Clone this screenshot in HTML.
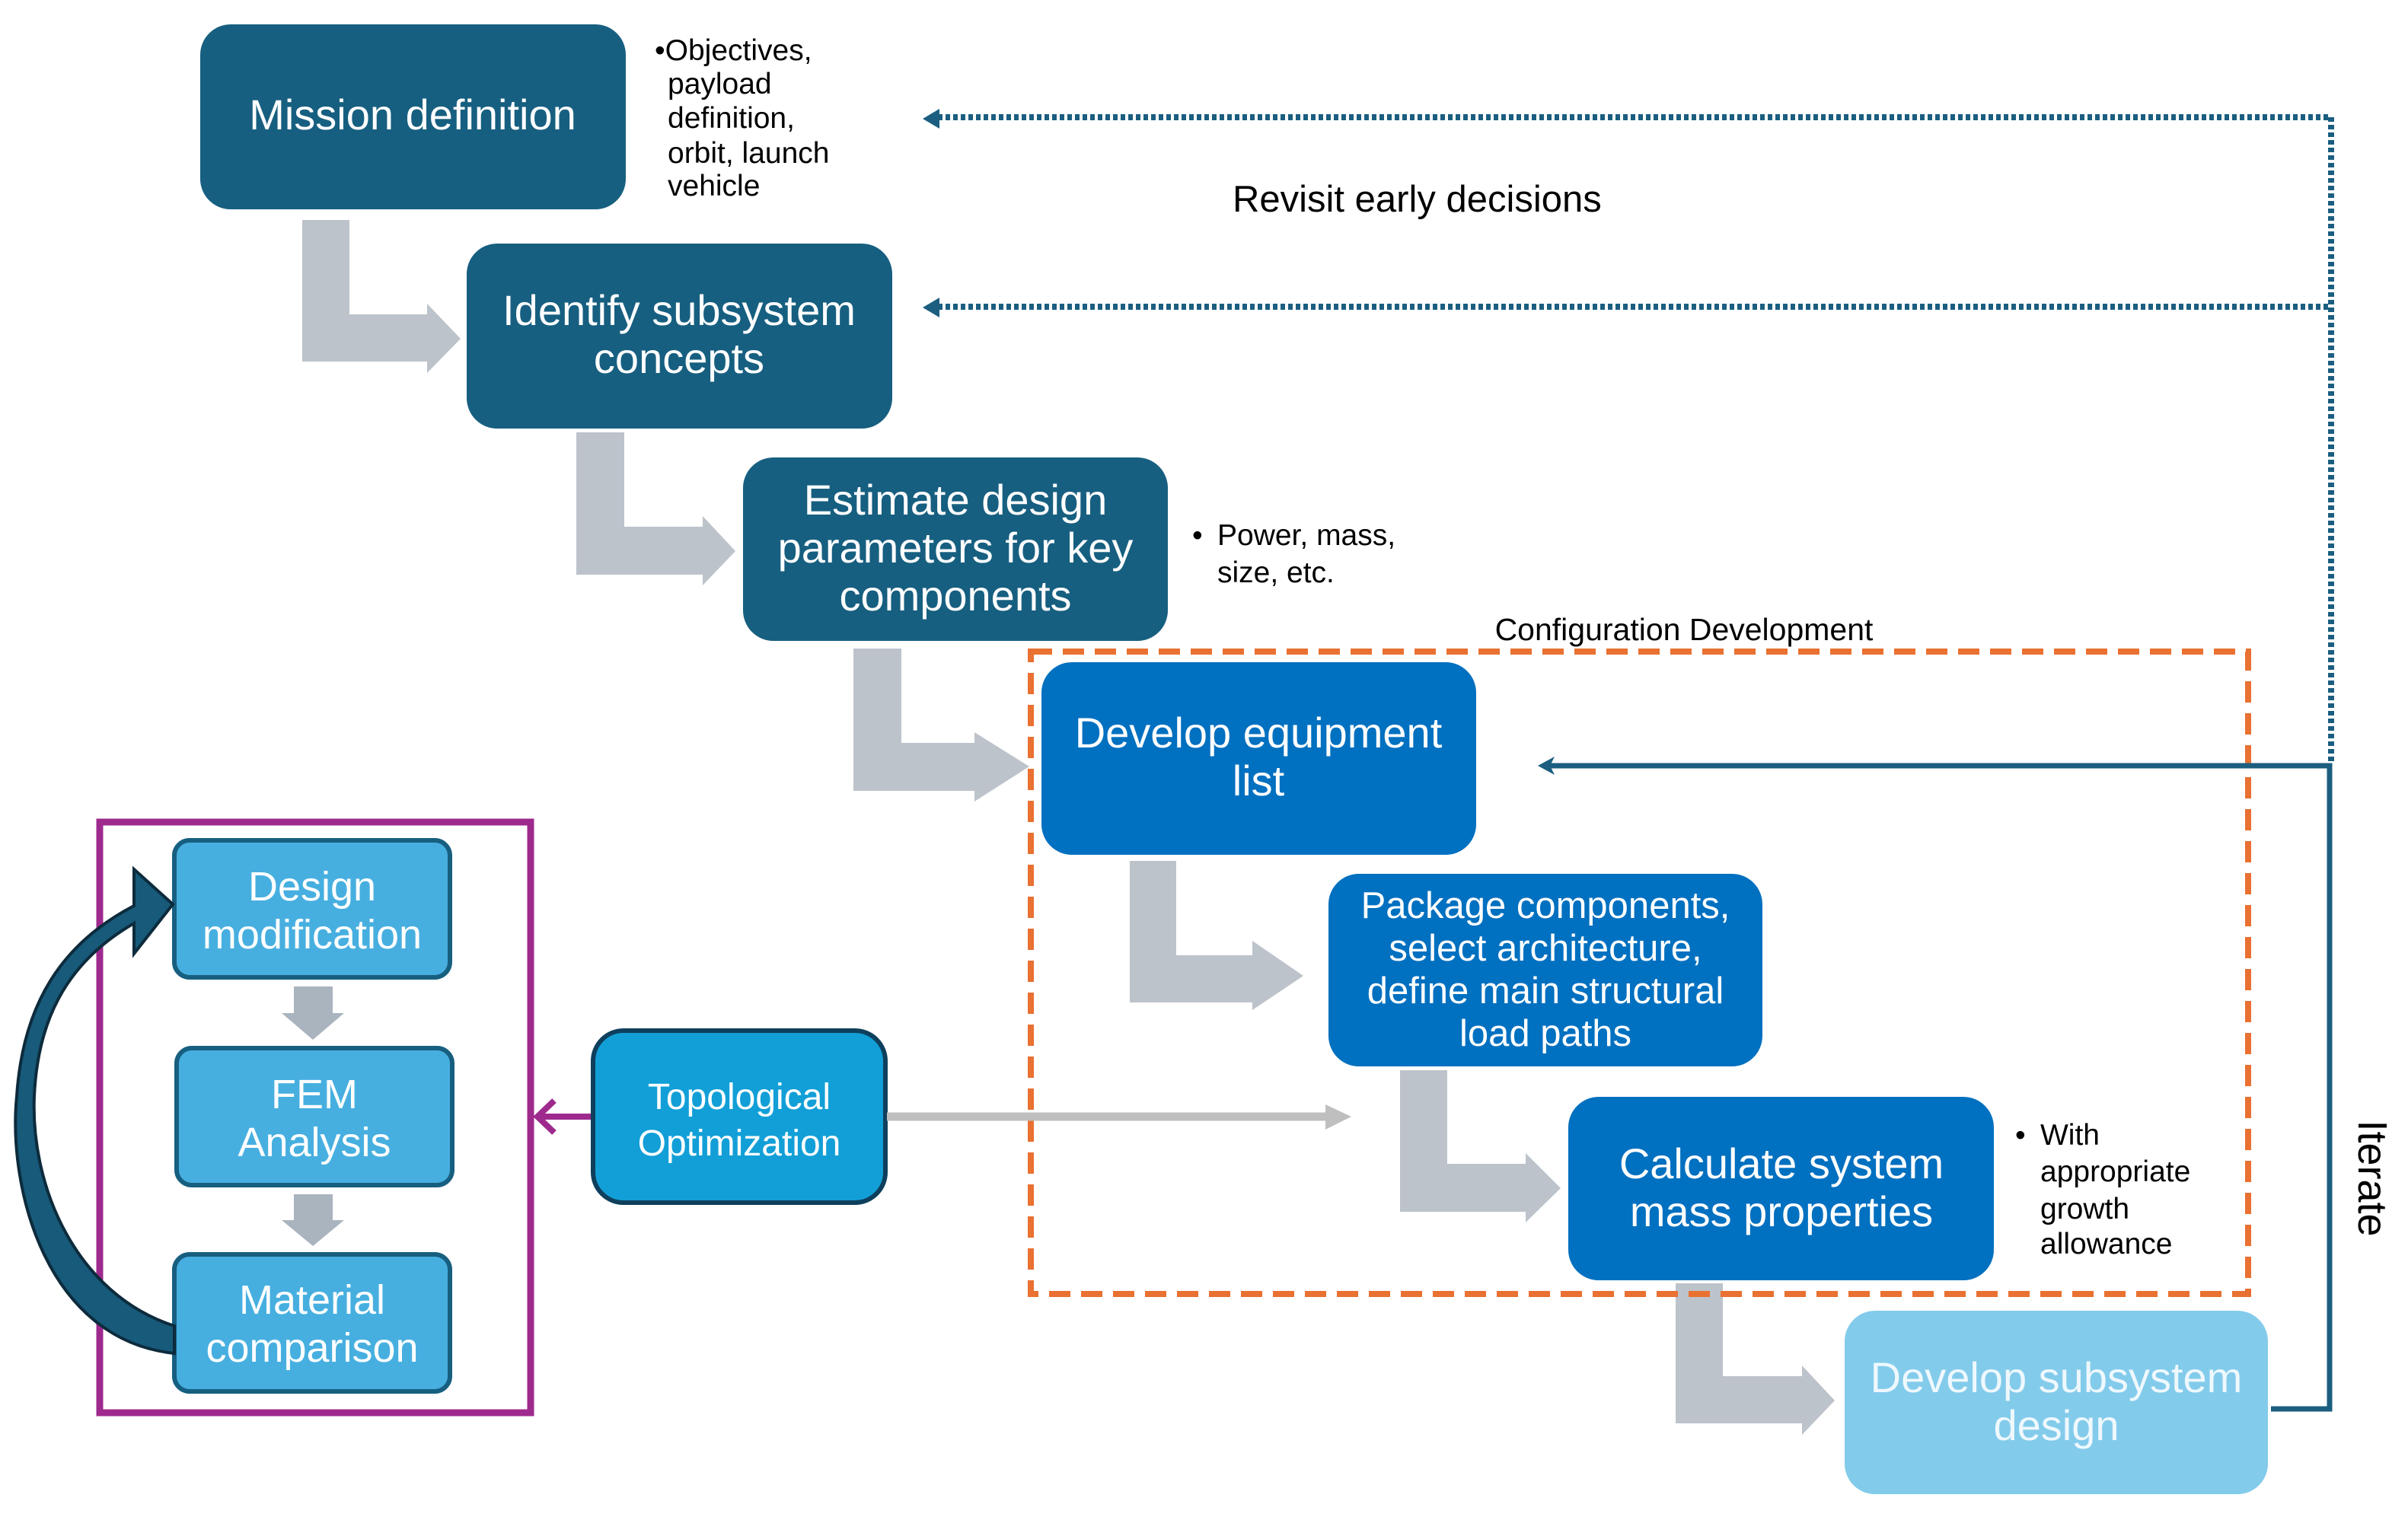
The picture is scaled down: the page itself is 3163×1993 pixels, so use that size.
<!DOCTYPE html>
<html><head><meta charset="utf-8"><style>
html,body{margin:0;padding:0;background:#fff;}
svg{display:block;}
text{font-family:"Liberation Sans",sans-serif;}
</style></head><body>
<svg width="3163" height="1993" viewBox="0 0 3163 1993" xmlns="http://www.w3.org/2000/svg">
<g fill="#bdc3cb">
<polygon points="397,289 459,289 459,413 561,413 561,399 605,445 561,490 561,475 397,475"/>
<polygon points="757,568 820,568 820,692 923,692 923,678 966,724 923,769 923,755 757,755"/>
<polygon points="1121,852 1184,852 1184,976 1280,976 1280,962 1352,1007 1280,1053 1280,1039 1121,1039"/>
<polygon points="1484,1131 1545,1131 1545,1255 1645,1255 1645,1236 1712,1282 1645,1327 1645,1317 1484,1317"/>
<polygon points="1839,1406 1901,1406 1901,1529 2004,1529 2004,1515 2050,1561 2004,1606 2004,1592 1839,1592"/>
<polygon points="2201,1686 2263,1686 2263,1808 2367,1808 2367,1794 2410,1840 2367,1885 2367,1870 2201,1870"/>
</g>
<rect x="1354" y="856" width="1599" height="844" fill="none" stroke="#e97132" stroke-width="8" stroke-dasharray="28 14"/>
<text x="2212" y="841" font-size="41" text-anchor="middle" fill="#000">Configuration Development</text>
<g stroke="#1b5e80" stroke-width="8" fill="none" stroke-dasharray="6 4">
<line x1="1232" y1="154" x2="3062" y2="154"/>
<line x1="1232" y1="403" x2="3062" y2="403"/>
<line x1="3062" y1="154" x2="3062" y2="1003"/>
</g>
<polygon points="1212,156 1234,143 1234,169" fill="#1b5e80"/>
<polygon points="1212,404 1234,391 1234,417" fill="#1b5e80"/>
<polyline points="2983,1851 3060,1851 3060,1006 2030,1006" fill="none" stroke="#1b5e80" stroke-width="7"/>
<polygon points="2020,1006 2042,994 2036,1006 2042,1018" fill="#1b5e80"/>
<text x="0" y="0" font-size="54" fill="#000" transform="translate(3098,1548) rotate(90)" text-anchor="middle">Iterate</text>
<text x="1619" y="278" font-size="49" fill="#000">Revisit early decisions</text>
<g fill="#175f80">
<rect x="263" y="32" width="559" height="243" rx="40"/>
<rect x="613" y="320" width="559" height="243" rx="40"/>
<rect x="976" y="601" width="558" height="241" rx="40"/>
</g>
<g fill="#0070c0">
<rect x="1368" y="870" width="571" height="253" rx="40"/>
<rect x="1745" y="1148" width="570" height="253" rx="40"/>
<rect x="2060" y="1441" width="559" height="241" rx="40"/>
</g>
<rect x="2423" y="1722" width="556" height="241" rx="40" fill="#83cbeb"/>
<g fill="#fff" font-size="56" text-anchor="middle">
<text x="542" y="170">Mission definition</text>
<text x="892" y="427">Identify subsystem</text>
<text x="892" y="490">concepts</text>
<text x="1255" y="676">Estimate design</text>
<text x="1255" y="739">parameters for key</text>
<text x="1255" y="802">components</text>
<text x="1653" y="982">Develop equipment</text>
<text x="1653" y="1045">list</text>
<text x="2340" y="1548">Calculate system</text>
<text x="2340" y="1611">mass properties</text>
<text x="2701" y="1829" fill="#eef8fd">Develop subsystem</text>
<text x="2701" y="1892" fill="#eef8fd">design</text>
</g>
<g fill="#fff" font-size="49" text-anchor="middle">
<text x="2030" y="1206">Package components,</text>
<text x="2030" y="1262">select architecture,</text>
<text x="2030" y="1318">define main structural</text>
<text x="2030" y="1374">load paths</text>
</g>
<g fill="#000" font-size="39">
<text x="860" y="79">•Objectives,</text>
<text x="877" y="123">payload</text>
<text x="877" y="168">definition,</text>
<text x="877" y="214">orbit, launch</text>
<text x="877" y="257">vehicle</text>
<text x="1566" y="716">•</text>
<text x="1599" y="716">Power, mass,</text>
<text x="1599" y="765">size, etc.</text>
<text x="2647" y="1504">•</text>
<text x="2680" y="1504">With</text>
<text x="2680" y="1552">appropriate</text>
<text x="2680" y="1601">growth</text>
<text x="2680" y="1647">allowance</text>
</g>
<rect x="131" y="1080" width="566" height="776" fill="none" stroke="#9e2a8e" stroke-width="9"/>
<g fill="#47afe0" stroke="#175f80" stroke-width="6">
<rect x="229" y="1104" width="362" height="180" rx="20"/>
<rect x="232" y="1377" width="362" height="180" rx="20"/>
<rect x="229" y="1648" width="362" height="180" rx="20"/>
</g>
<g fill="#aab4be">
<polygon points="386,1296 437,1296 437,1331 452,1331 411,1366 370,1331 386,1331"/>
<polygon points="386,1569 437,1569 437,1603 452,1603 411,1637 370,1603 386,1603"/>
</g>
<g fill="#fff" font-size="54" text-anchor="middle">
<text x="410" y="1183">Design</text>
<text x="410" y="1246">modification</text>
<text x="413" y="1456">FEM</text>
<text x="413" y="1519">Analysis</text>
<text x="410" y="1726">Material</text>
<text x="410" y="1789">comparison</text>
</g>
<rect x="779" y="1354" width="384" height="226" rx="40" fill="#129fd7" stroke="#0e3f5c" stroke-width="6"/>
<g fill="#fff" font-size="48" text-anchor="middle">
<text x="971" y="1457">Topological</text>
<text x="971" y="1518">Optimization</text>
</g>
<line x1="776" y1="1467" x2="706" y2="1467" stroke="#9e2a8e" stroke-width="8"/>
<polyline points="728,1446 706,1467 728,1488" fill="none" stroke="#9e2a8e" stroke-width="8"/>
<line x1="1165" y1="1467" x2="1745" y2="1467" stroke="#bfbfbf" stroke-width="11"/>
<polygon points="1741,1451 1775,1467 1741,1484" fill="#bfbfbf"/>
<path d="M229,1778 C60,1760 10,1560 22,1440 C30,1320 80,1240 176,1190 L176,1142 L227,1188 L176,1253 L176,1213 C95,1260 50,1330 45,1440 C40,1560 100,1700 229,1742 Z" fill="#175a7a" stroke="#0d2b3c" stroke-width="4"/>
</svg>
</body></html>
